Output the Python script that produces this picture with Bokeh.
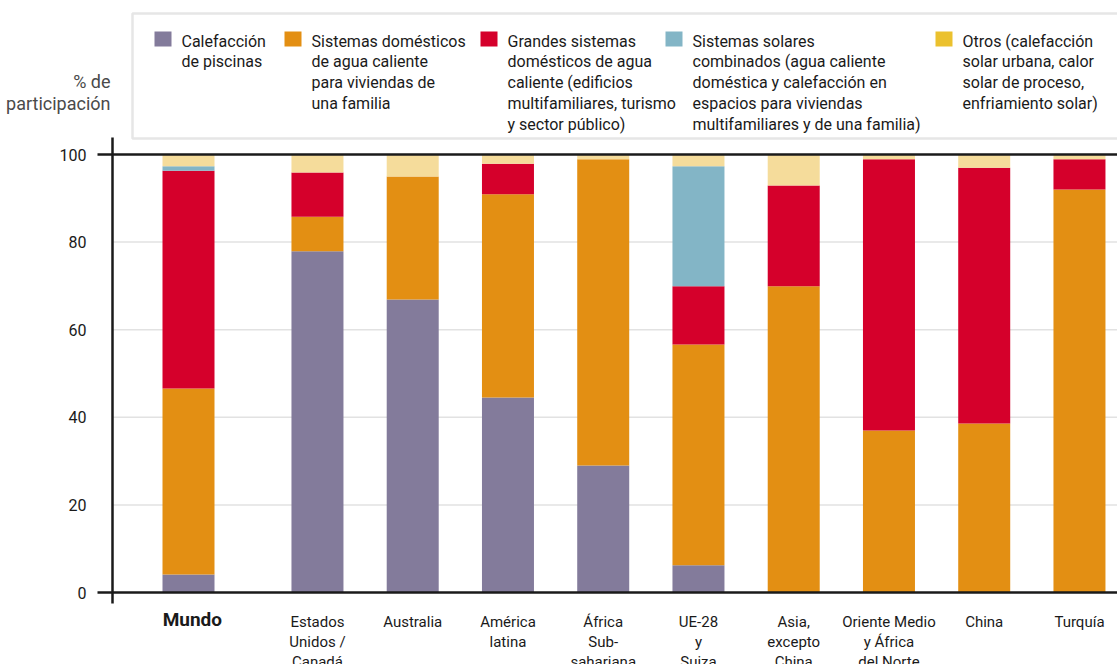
from bokeh.plotting import figure
from bokeh.models import Range1d, FixedTicker, ColumnDataSource
from bokeh.core.properties import value
from bokeh.embed import file_html
from bokeh.resources import INLINE

# ---------------- data ----------------
world_label = "Mundo"
regions = ["Estados\nUnidos /\nCanadá", "Australia", "América\nlatina",
           "África\nSub-\nsahariana", "UE-28\ny\nSuiza", "Asia,\nexcepto\nChina",
           "Oriente Medio\ny África\ndel Norte", "China", "Turquía"]
categories = [world_label] + regions

pool     = [4.1, 77.9, 66.9, 44.5, 29.0, 6.2, 0.0, 0.0, 0.0, 0.0]
domestic = [42.5, 7.9, 28.1, 46.4, 69.9, 50.4, 69.9, 37.0, 38.6, 92.0]
large    = [49.7, 10.1, 0.0, 7.0, 0.0, 13.3, 23.0, 61.9, 58.4, 6.9]
combi    = [1.0, 0.0, 0.0, 0.0, 0.0, 27.4, 0.0, 0.0, 0.0, 0.0]
others   = [2.7, 4.1, 5.0, 2.1, 1.1, 2.7, 7.1, 1.1, 3.0, 1.1]

series_keys = ["pool", "domestic", "large", "combi", "others"]
series_labels = [
    "Calefacción\nde piscinas",
    "Sistemas domésticos\nde agua caliente\npara viviendas de\nuna familia",
    "Grandes sistemas\ndomésticos de agua\ncaliente (edificios\nmultifamiliares, turismo\ny sector público)",
    "Sistemas solares\ncombinados (agua caliente\ndoméstica y calefacción en\nespacios para viviendas\nmultifamiliares y de una familia)",
    "Otros (calefacción\nsolar urbana, calor\nsolar de proceso,\nenfriamiento solar)",
]
bar_colors = ["#837b9b", "#e38f13", "#d5002b", "#83b5c6", "#f5dc9b"]
legend_colors = ["#837b9b", "#e38f13", "#d5002b", "#83b5c6", "#ebc12e"]

y_ticks = [0, 20, 40, 60, 80, 100]
y_title = "% de\nparticipación"

# ---------------- layout helpers (pixel -> data) ----------------
W, H = 1117, 664
UNIT_X = 95.25            # px per category step
X_ORIGIN = 188.0          # px centre of first bar
Y_ZERO, PX_PER_PCT = 592.0, 4.38

def X(px):
    return (px - X_ORIGIN) / UNIT_X

def Y(py):
    return (Y_ZERO - py) / PX_PER_PCT

world_gap = 1.354
xpos = [0.0] + [world_gap + i for i in range(len(regions))]

FONT = value("Roboto")

p = figure(width=W, height=H, output_backend="svg", toolbar_location=None,
           x_range=Range1d(X(0), X(W)), y_range=Range1d(Y(H), Y(0)),
           x_axis_location=None, min_border=0, outline_line_color=None,
           background_fill_color="white", border_fill_color="white")
p.xgrid.visible = False
p.ygrid.visible = False

# y axis pinned at the left edge of the plotting area
ax = p.yaxis[0]
ax.fixed_location = X(112)
ax.bounds = (Y(603), Y(137))
ax.ticker = FixedTicker(ticks=y_ticks)
ax.major_tick_out = 0
ax.major_tick_in = 0
ax.minor_tick_out = 0
ax.minor_tick_in = 0
ax.axis_line_color = "#1a1a1a"
ax.axis_line_width = 2.5
ax.major_label_text_font = "Roboto"
ax.major_label_text_font_size = "16px"
ax.major_label_text_color = "#1a1a1a"
ax.major_label_standoff = 26

# grid lines
grid_vals = [v for v in y_ticks if v not in (0, 100)]
p.segment(x0=[X(112)] * len(grid_vals), x1=[X(1140)] * len(grid_vals),
          y0=grid_vals, y1=grid_vals, line_color="#e2e2e2", line_width=1.5)

# stacked bars
src = ColumnDataSource(dict(x=xpos, pool=pool, domestic=domestic, large=large,
                            combi=combi, others=others))
p.vbar_stack(series_keys, x="x", width=52 / UNIT_X, source=src,
             fill_color=bar_colors, line_color=None)

# baseline & 100 line
edge_vals = [0, 100]
p.segment(x0=[X(97)] * 2, x1=[X(1140)] * 2, y0=edge_vals, y1=edge_vals,
          line_color="#1a1a1a", line_width=2.5)

# category labels
p.text(x=xpos[1:], y=[Y(612)] * len(regions), text=regions, text_font=FONT,
       text_font_size="15px", text_align="center", text_baseline="top",
       text_line_height=1.12, text_color="#1a1a1a")
p.text(x=[xpos[0] + 0.04], y=[Y(619)], text=[world_label], text_font=FONT,
       text_font_size="19px", text_font_style="bold", text_align="center",
       text_baseline="middle", text_color="#1a1a1a")

# y title
p.text(x=[X(110)], y=[Y(70)], text=[y_title], text_font=FONT, text_font_size="18px",
       text_align="right", text_baseline="top", text_line_height=1.05,
       text_color="#4a4a4a")

# legend box
p.quad(left=[X(132)], right=[X(1150)], top=[Y(13)], bottom=[Y(138)],
       fill_color="white", line_color="#e6e6e6", line_width=2.5)
sw_left = [154, 284, 480, 665, 935]
p.quad(left=[X(s) for s in sw_left], right=[X(s + 17) for s in sw_left],
       top=[Y(31)] * 5, bottom=[Y(46)] * 5, fill_color=legend_colors, line_color=None)
p.text(x=[X(s + 27) for s in sw_left], y=[Y(31)] * 5, text=series_labels,
       text_font=FONT, text_font_size="16px", text_align="left", text_baseline="top",
       text_line_height=1.1, text_color="#1a1a1a")

open("out.html", "w").write(file_html(p, INLINE))
